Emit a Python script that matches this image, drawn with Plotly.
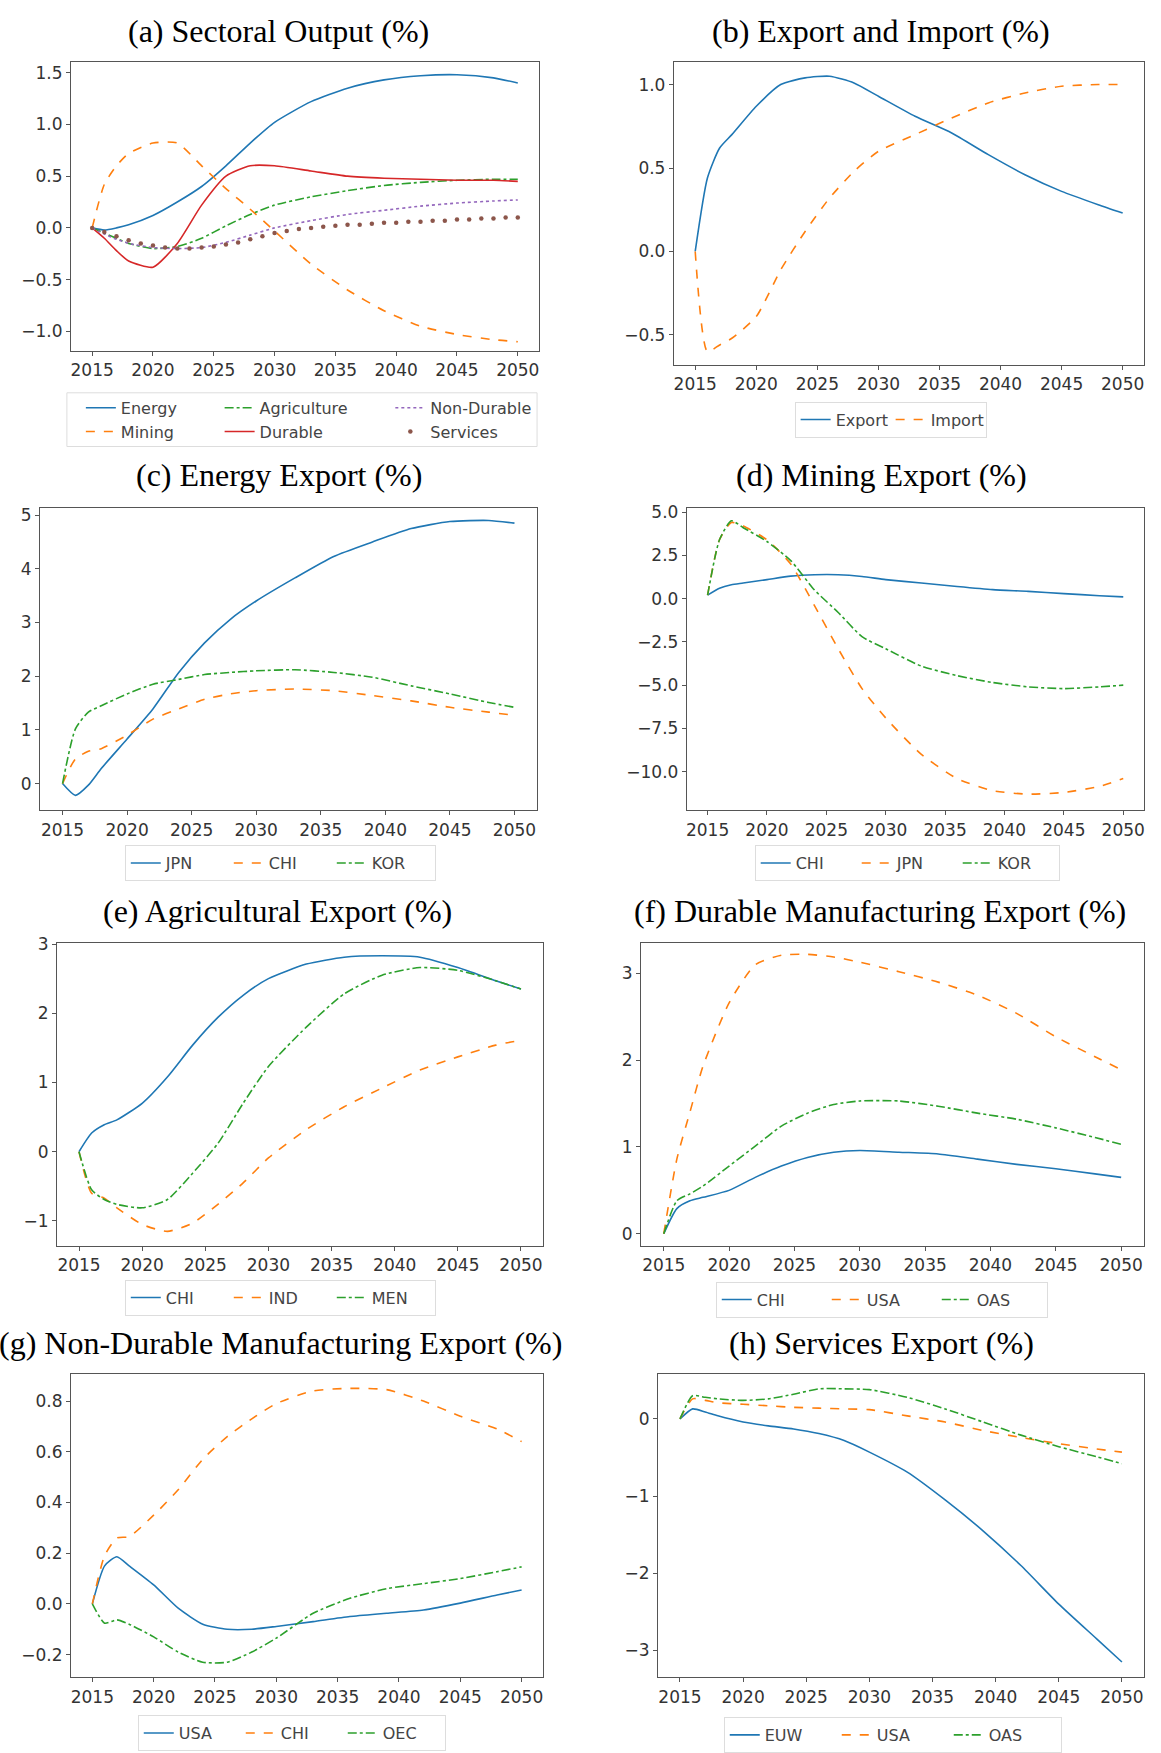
import plotly.graph_objects as go

W, H = 1161, 1753

YEARS = [2015, 2016, 2017, 2018, 2020, 2022, 2024, 2026, 2028, 2030,
         2033, 2036, 2039, 2042, 2045, 2048, 2050]
ANNUAL_YEARS = list(range(2015, 2051))
X_TICKS = [2015, 2020, 2025, 2030, 2035, 2040, 2045, 2050]

# (a) sectoral output
out_energy = [0.0, -0.02, 0.0, 0.03, 0.12, 0.25, 0.40, 0.60, 0.82, 1.02, 1.22, 1.35, 1.43, 1.47, 1.48, 1.45, 1.40]
out_mining = [0.0, 0.42, 0.60, 0.72, 0.82, 0.82, 0.60, 0.38, 0.18, -0.03, -0.35, -0.60, -0.80, -0.95, -1.03, -1.08, -1.10]
out_agri = [0.0, -0.05, -0.10, -0.15, -0.20, -0.18, -0.10, 0.02, 0.13, 0.22, 0.30, 0.36, 0.41, 0.44, 0.46, 0.47, 0.47]
out_durable = [0.0, -0.10, -0.22, -0.32, -0.38, -0.15, 0.22, 0.50, 0.60, 0.60, 0.55, 0.50, 0.48, 0.47, 0.46, 0.46, 0.45]
out_nondurable = [0.0, -0.06, -0.11, -0.15, -0.19, -0.20, -0.19, -0.14, -0.07, 0.0, 0.07, 0.13, 0.17, 0.21, 0.24, 0.26, 0.27]
out_services = [0.0, -0.04, -0.08, -0.12, -0.15, -0.17, -0.19, -0.20, -0.20, -0.19, -0.18, -0.16,
                -0.14, -0.11, -0.08, -0.05, -0.03, -0.01, 0.0, 0.01, 0.02, 0.03, 0.03, 0.04,
                0.05, 0.05, 0.06, 0.06, 0.07, 0.07, 0.08, 0.08, 0.09, 0.09, 0.10, 0.10]

# (b) export and import
trade_export = [0.0, 0.44, 0.62, 0.70, 0.87, 1.00, 1.04, 1.05, 1.01, 0.93, 0.81, 0.71, 0.58, 0.46, 0.36, 0.28, 0.23]
trade_import = [0.0, -0.60, -0.56, -0.52, -0.39, -0.11, 0.12, 0.32, 0.48, 0.60, 0.70, 0.80, 0.89, 0.95, 0.99, 1.00, 1.00]

# (c) energy export
en_jpn = [0.0, -0.22, -0.03, 0.28, 0.83, 1.39, 2.07, 2.62, 3.06, 3.40, 3.83, 4.23, 4.50, 4.75, 4.88, 4.90, 4.85]
en_chi = [0.0, 0.46, 0.60, 0.65, 0.90, 1.20, 1.39, 1.57, 1.67, 1.73, 1.76, 1.73, 1.64, 1.54, 1.42, 1.33, 1.27]
en_kor = [0.0, 1.02, 1.33, 1.45, 1.67, 1.85, 1.94, 2.03, 2.07, 2.10, 2.12, 2.07, 1.98, 1.82, 1.67, 1.51, 1.42]

# (d) mining export
mi_chi = [0.2, 0.6, 0.8, 0.9, 1.1, 1.3, 1.38, 1.38, 1.28, 1.1, 0.9, 0.7, 0.52, 0.42, 0.29, 0.17, 0.1]
mi_jpn = [0.2, 3.4, 4.4, 4.2, 3.4, 2.0, -0.4, -2.9, -5.2, -6.9, -9.0, -10.4, -11.1, -11.3, -11.2, -10.85, -10.4]
mi_kor = [0.2, 3.4, 4.5, 4.1, 3.3, 2.2, 0.5, -0.8, -2.2, -2.9, -3.9, -4.45, -4.85, -5.1, -5.2, -5.1, -5.0]

# (e) agricultural export
ag_chi = [0.0, 0.27, 0.39, 0.46, 0.70, 1.08, 1.54, 1.94, 2.26, 2.50, 2.71, 2.81, 2.83, 2.81, 2.66, 2.47, 2.35]
ag_ind = [0.0, -0.60, -0.67, -0.81, -1.05, -1.15, -1.03, -0.76, -0.45, -0.09, 0.32, 0.65, 0.92, 1.18, 1.37, 1.54, 1.61]
ag_men = [0.0, -0.55, -0.69, -0.76, -0.81, -0.69, -0.31, 0.12, 0.70, 1.23, 1.80, 2.28, 2.55, 2.66, 2.62, 2.47, 2.35]

# (f) durable manufacturing export
du_chi = [0.0, 0.29, 0.38, 0.42, 0.50, 0.65, 0.78, 0.88, 0.94, 0.96, 0.94, 0.92, 0.86, 0.80, 0.75, 0.69, 0.65]
du_usa = [0.0, 0.86, 1.40, 1.93, 2.66, 3.10, 3.21, 3.22, 3.19, 3.13, 3.02, 2.90, 2.75, 2.54, 2.27, 2.04, 1.89]
du_oas = [0.0, 0.38, 0.46, 0.55, 0.78, 1.01, 1.24, 1.39, 1.49, 1.53, 1.53, 1.47, 1.39, 1.32, 1.22, 1.11, 1.03]

# (g) non-durable manufacturing export
nd_usa = [0.0, 0.15, 0.186, 0.15, 0.075, -0.017, -0.08, -0.10, -0.10, -0.089, -0.07, -0.05, -0.037, -0.024, 0.003, 0.035, 0.055]
nd_chi = [0.0, 0.19, 0.26, 0.265, 0.35, 0.45, 0.57, 0.66, 0.73, 0.79, 0.84, 0.85, 0.845, 0.80, 0.74, 0.69, 0.64]
nd_oec = [0.0, -0.076, -0.063, -0.08, -0.13, -0.19, -0.23, -0.23, -0.19, -0.135, -0.037, 0.022, 0.06, 0.08, 0.10, 0.127, 0.146]

# (h) services export
sv_euw = [0.0, 0.13, 0.09, 0.04, -0.04, -0.09, -0.13, -0.19, -0.28, -0.43, -0.69, -1.05, -1.45, -1.90, -2.40, -2.85, -3.15]
sv_usa = [0.0, 0.26, 0.24, 0.21, 0.19, 0.17, 0.15, 0.14, 0.13, 0.12, 0.04, -0.04, -0.15, -0.24, -0.32, -0.39, -0.43]
sv_oas = [0.0, 0.30, 0.28, 0.26, 0.24, 0.26, 0.32, 0.39, 0.39, 0.38, 0.28, 0.13, -0.04, -0.21, -0.36, -0.49, -0.58]

C = ['#1f77b4', '#ff7f0e', '#2ca02c', '#d62728', '#9467bd', '#8c564b']
TICK_FONT = dict(family='DejaVu Sans', size=17, color='#333333')
LEG_FONT = dict(family='DejaVu Sans', size=16, color='#444444')


def fx(x):
    return x / W


def fy(y):
    return 1 - y / H


# panel boxes in pixels: (left, right, top, bottom), title centre
panels = [
    dict(title='(a) Sectoral Output (%)', box=(70, 539, 53, 344), yr=[-1.19, 1.606], dtick=0.5, fmt='.1f', tc=(278, 22)),
    dict(title='(b) Export and Import (%)', box=(674, 1145, 53, 358), yr=[-0.68, 1.137], dtick=0.5, fmt='.1f', tc=(882, 22)),
    dict(title='(c) Energy Export (%)', box=(39, 537, 502, 806), yr=[-0.5, 5.13], dtick=1, fmt='d', tc=(278, 469)),
    dict(title='(d) Mining Export (%)', box=(687, 1145, 502, 806), yr=[-12.24, 5.23], dtick=2.5, fmt='.1f', tc=(882, 469)),
    dict(title='(e) Agricultural Export (%)', box=(56, 543, 939, 1244), yr=[-1.36, 3.02], dtick=1, fmt='d', tc=(277, 907)),
    dict(title='(f) Durable Manufacturing Export (%)', box=(641, 1145, 939, 1244), yr=[-0.14, 3.355], dtick=1, fmt='d', tc=(881, 907)),
    dict(title='(g) Non-Durable Manufacturing Export (%)', box=(70, 543, 1373, 1678), yr=[-0.29, 0.906], dtick=0.2, fmt='.1f', tc=(280, 1342)),
    dict(title='(h) Services Export (%)', box=(658, 1145, 1373, 1678), yr=[-3.35, 0.58], dtick=1, fmt='d', tc=(882, 1342)),
]

# panel index, name, values, colour, dash, legend id
series = [
    (0, 'Energy', out_energy, C[0], 'solid', 'legend'),
    (0, 'Mining', out_mining, C[1], 'dash', 'legend'),
    (0, 'Agriculture', out_agri, C[2], 'dashdot', 'legend2'),
    (0, 'Durable', out_durable, C[3], 'solid', 'legend2'),
    (0, 'Non-Durable', out_nondurable, C[4], 'dot', 'legend3'),
    (1, 'Export', trade_export, C[0], 'solid', 'legend4'),
    (1, 'Import', trade_import, C[1], 'dash', 'legend4'),
    (2, 'JPN', en_jpn, C[0], 'solid', 'legend5'),
    (2, 'CHI', en_chi, C[1], 'dash', 'legend5'),
    (2, 'KOR', en_kor, C[2], 'dashdot', 'legend5'),
    (3, 'CHI', mi_chi, C[0], 'solid', 'legend6'),
    (3, 'JPN', mi_jpn, C[1], 'dash', 'legend6'),
    (3, 'KOR', mi_kor, C[2], 'dashdot', 'legend6'),
    (4, 'CHI', ag_chi, C[0], 'solid', 'legend7'),
    (4, 'IND', ag_ind, C[1], 'dash', 'legend7'),
    (4, 'MEN', ag_men, C[2], 'dashdot', 'legend7'),
    (5, 'CHI', du_chi, C[0], 'solid', 'legend8'),
    (5, 'USA', du_usa, C[1], 'dash', 'legend8'),
    (5, 'OAS', du_oas, C[2], 'dashdot', 'legend8'),
    (6, 'USA', nd_usa, C[0], 'solid', 'legend9'),
    (6, 'CHI', nd_chi, C[1], 'dash', 'legend9'),
    (6, 'OEC', nd_oec, C[2], 'dashdot', 'legend9'),
    (7, 'EUW', sv_euw, C[0], 'solid', 'legend10'),
    (7, 'USA', sv_usa, C[1], 'dash', 'legend10'),
    (7, 'OAS', sv_oas, C[2], 'dashdot', 'legend10'),
]

fig = go.Figure()

for p, name, vals, color, dash, leg in series:
    sfx = '' if p == 0 else str(p + 1)
    fig.add_trace(go.Scatter(
        x=YEARS, y=vals, name=name, mode='lines',
        line=dict(color=color, width=1.6, dash=dash, shape='spline', smoothing=0.6),
        xaxis='x' + sfx, yaxis='y' + sfx, legend=leg,
    ))

# services drawn as yearly dots
fig.add_trace(go.Scatter(
    x=ANNUAL_YEARS, y=out_services, name='Services', mode='markers',
    marker=dict(color=C[5], size=4.5),
    xaxis='x', yaxis='y', legend='legend3',
))

layout = dict(
    width=W, height=H,
    margin=dict(l=0, r=0, t=0, b=0),
    paper_bgcolor='white', plot_bgcolor='white',
    showlegend=True,
    annotations=[], shapes=[],
)

for i, p in enumerate(panels):
    sfx = '' if i == 0 else str(i + 1)
    l, r, t, b = p['box']
    layout['xaxis' + sfx] = dict(
        domain=[fx(l), fx(r)], anchor='y' + sfx,
        range=[2013.25, 2051.75], tickvals=X_TICKS,
        showgrid=False, zeroline=False,
        showline=True, mirror=True, linecolor='#555555', linewidth=1,
        ticks='outside', ticklen=4, tickcolor='#555555',
        tickfont=TICK_FONT,
    )
    layout['yaxis' + sfx] = dict(
        domain=[fy(b), fy(t)], anchor='x' + sfx,
        range=p['yr'], dtick=p['dtick'], tick0=0, tickformat=p['fmt'],
        showgrid=False, zeroline=False,
        showline=True, mirror=True, linecolor='#555555', linewidth=1,
        ticks='outside', ticklen=4, tickcolor='#555555',
        tickfont=TICK_FONT,
    )
    layout['annotations'].append(dict(
        text=p['title'], xref='paper', yref='paper',
        x=fx(p['tc'][0]), y=fy(p['tc'][1]), xanchor='center', yanchor='middle',
        showarrow=False, font=dict(family='Liberation Serif', size=32, color='black'),
    ))

# panel (a): three legend columns inside one frame
for lid, xl in [('legend', 80), ('legend2', 219), ('legend3', 390)]:
    layout[lid] = dict(
        x=fx(xl), y=fy(384), xanchor='left', yanchor='top',
        orientation='v', bgcolor='rgba(0,0,0,0)', borderwidth=0, font=LEG_FONT,
    )
layout['shapes'].append(dict(
    type='rect', xref='paper', yref='paper',
    x0=fx(66), x1=fx(537), y0=fy(440), y1=fy(386),
    line=dict(color='#dddddd', width=1), fillcolor='rgba(0,0,0,0)', layer='below',
))

# single-row legends: legend id, left px, centre y px, entry width
row_legends = [
    ('legend4', 795, 413, 50),
    ('legend5', 124, 859, 58),
    ('legend6', 755, 859, 56),
    ('legend7', 124, 1296, 58),
    ('legend8', 716, 1298, 65),
    ('legend9', 137, 1734, 57),
    ('legend10', 724, 1736, 67),
]
for lid, xl, yc, ew in row_legends:
    layout[lid] = dict(
        x=fx(xl), y=fy(yc), xanchor='left', yanchor='middle',
        orientation='h', entrywidth=ew, entrywidthmode='pixels',
        bgcolor='white', bordercolor='#dddddd', borderwidth=1, font=LEG_FONT,
    )

fig.update_layout(**layout)

# drop the browser's default 8px body margin so the figure fills the window
fig.write_html("out.html", config={'displayModeBar': False},
               post_script="document.body.style.margin='0';")
